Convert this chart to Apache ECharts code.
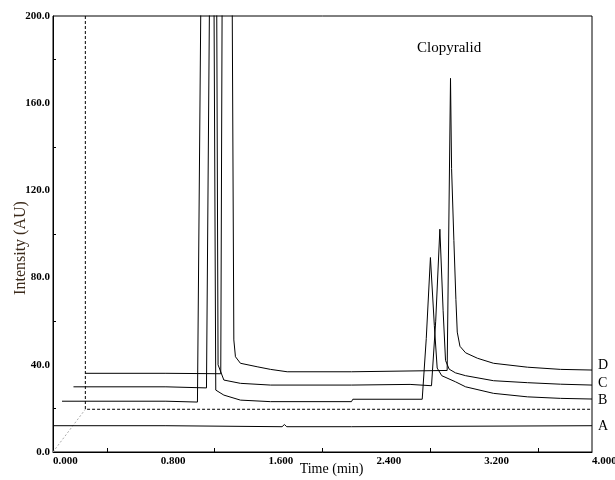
<!DOCTYPE html>
<html>
<head>
<meta charset="utf-8">
<script src="https://cdn.jsdelivr.net/npm/echarts@6/dist/echarts.min.js"></script>
<style>
html,body{margin:0;padding:0;background:#fff;}
#c{width:615px;height:480px;}
</style>
</head>
<body>
<div id="c"></div>
<script>
// ---- data (time in min, intensity in AU) ----
const xLabelValues = [0, 0.8, 1.6, 2.4, 3.2, 4.0];
const xTickValues = [0.4, 1.2, 2.0, 2.8, 3.6];
const yLabelValues = [0, 40, 80, 120, 160, 200];
const yTickValues = [20, 60, 100, 140, 180];

const traceA = [[0,12.06],[0.838,12.06],[0.845,11.6],[1.700,11.6],[1.717,12.6],[1.735,11.6],[2.215,11.6],[2.225,12.06],[4.0,12.06]];
const traceB = [[0.067,23.3],[0.838,23.3],[0.845,22.9],[1.072,22.9],[1.097,205],[1.14,400],[1.195,205],[1.208,28.4],[1.268,26.1],[1.391,23.8],[1.614,23.1],[2.215,23.1],[2.225,24.2],[2.74,24.2],[2.77,52],[2.801,89.2],[2.83,58],[2.851,38.5],[2.885,35],[2.987,32.2],[3.062,29.9],[3.269,26.9],[3.521,25.3],[3.766,24.6],[4.0,24.3]];
const traceC = [[0.152,29.9],[0.838,29.9],[0.845,29.4],[1.139,29.4],[1.161,205],[1.19,400],[1.215,205],[1.225,40],[1.268,33.0],[1.391,31.5],[1.614,30.7],[2.215,30.7],[2.225,31.0],[2.65,31.0],[2.66,30.4],[2.809,30.4],[2.84,60],[2.871,102.2],[2.895,65],[2.913,42],[2.94,38],[2.987,36.3],[3.062,35.0],[3.269,32.7],[3.521,31.8],[3.766,31.1],[4.0,30.7]];
const traceD = [[0.24,36.1],[0.838,36.1],[0.845,35.9],[1.245,35.9],[1.255,205],[1.29,400],[1.33,205],[1.342,51.4],[1.354,43.7],[1.391,40.7],[1.515,39.1],[1.614,37.9],[1.738,36.8],[2.215,36.8],[2.225,37.3],[2.925,37.4],[2.95,171.4],[2.958,130],[2.975,97],[2.99,70],[3.0,55],[3.02,48.5],[3.062,45.5],[3.15,43],[3.269,40.7],[3.521,38.9],[3.766,37.9],[4.0,37.6]];
const floorLine = [[0.24,200],[0.24,19.6],[4.0,19.6]];
const offsetLine = [[0,0],[0.24,19.6]];

const serif = '"Liberation Serif","Times New Roman",serif';

function trace(name, data, off) {
  return {
    name: name, type: 'line', data: data, showSymbol: false, symbol: 'none',
    clip: true, animation: false, silent: true,
    lineStyle: {color: '#000', width: 1},
    endLabel: {show: true, formatter: '{a}', distance: 6, offset: [0, off],
      fontFamily: serif, fontSize: 14, color: '#000'}
  };
}

const chart = echarts.init(document.getElementById('c'), null, {renderer: 'canvas'});
chart.setOption({
  animation: false,
  backgroundColor: '#fff',
  grid: {left: 53, right: 23, top: 16, bottom: 28, containLabel: false, outerBoundsMode: 'none',
    show: true, borderColor: '#000', borderWidth: 1, backgroundColor: 'transparent'},
  xAxis: {
    type: 'value', min: 0, max: 4, interval: 0.4,
    name: 'Time (min)', nameLocation: 'middle', nameGap: 10, nameMoveOverlap: false,
    nameTextStyle: {fontFamily: serif, fontSize: 14, color: '#000', padding: [0, 0, 0, 18]},
    axisLine: {show: true, lineStyle: {color: '#000', width: 1}},
    axisTick: {show: true, inside: true, length: 4, customValues: xTickValues, lineStyle: {color: '#000'}},
    axisLabel: {customValues: xLabelValues, align: 'left', margin: 4, fontFamily: serif, fontWeight: 'bold', fontSize: 11, color: '#000',
      formatter: v => v.toFixed(3)},
    splitLine: {show: false}
  },
  yAxis: {
    type: 'value', min: 0, max: 200, interval: 20,
    name: 'Intensity (AU)', nameLocation: 'middle', nameGap: 24, nameMoveOverlap: false,
    nameTextStyle: {fontFamily: serif, fontSize: 16, color: '#3b2a1a', padding: [0, 28, 0, 0]},
    axisLine: {show: true, lineStyle: {color: '#000', width: 1}},
    axisTick: {show: true, inside: true, length: 3, customValues: yTickValues, lineStyle: {color: '#000'}},
    axisLabel: {customValues: yLabelValues, margin: 3, fontFamily: serif, fontWeight: 'bold', fontSize: 11, color: '#000',
      formatter: v => v.toFixed(1)},
    splitLine: {show: false}
  },
  graphic: [{
    type: 'text', left: 417, top: 41,
    style: {text: 'Clopyralid', font: '15px ' + serif, fill: '#000'}
  }],
  series: [
    {name: 'floor', type: 'line', data: floorLine, showSymbol: false, symbol: 'none', silent: true,
      lineStyle: {color: '#000', width: 1, type: [3, 2]}},
    {name: 'offset', type: 'line', data: offsetLine, showSymbol: false, symbol: 'none', silent: true,
      lineStyle: {color: '#aaa', width: 1, type: [2, 2]}},
    trace('A', traceA, 1),
    trace('B', traceB, 1),
    trace('C', traceC, -2),
    trace('D', traceD, -5)
  ]
});
</script>
</body>
</html>
